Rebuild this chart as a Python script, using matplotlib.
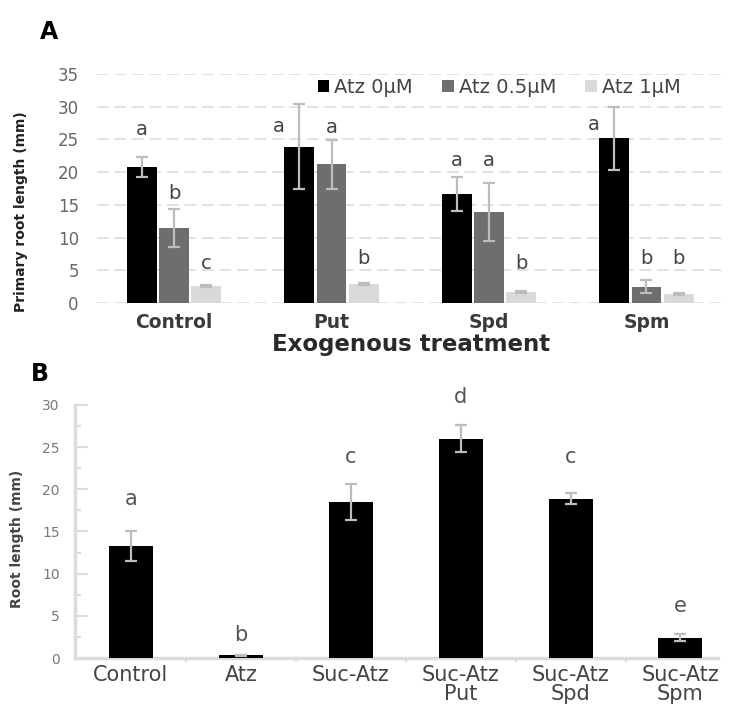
import numpy as np
import matplotlib.pyplot as plt
from matplotlib.ticker import MultipleLocator, FixedLocator

# wide sans face: the source figure's text is stretched sideways
plt.rcParams['font.family'] = ['DejaVu Sans']

# panel A data
groups_a = ['Control', 'Put', 'Spd', 'Spm']
series_names = ['Atz 0μM', 'Atz 0.5μM', 'Atz 1μM']
atz0 = [20.8, 23.9, 16.7, 25.2]
atz0_err = [1.5, 6.5, 2.6, 4.8]
atz05 = [11.5, 21.2, 13.9, 2.5]
atz05_err = [2.9, 3.7, 4.4, 1.0]
atz1 = [2.6, 2.9, 1.7, 1.4]
atz1_err = [0.2, 0.2, 0.2, 0.1]
letters_a = [['a', 'b', 'c'], ['a', 'a', 'b'], ['a', 'a', 'b'], ['a', 'b', 'b']]
letter_y_a = [[26.5, 16.8, 6.1], [27.0, 26.8, 6.8], [21.8, 21.8, 6.1], [27.3, 6.8, 6.8]]
letter_dx_a = [[0, 0, 0], [-0.13, 0, 0], [0, 0, 0], [-0.13, 0, 0]]

# panel B data
groups_b = ['Control', 'Atz', 'Suc-Atz', 'Suc-Atz\nPut', 'Suc-Atz\nSpd', 'Suc-Atz\nSpm']
root_len = [13.3, 0.3, 18.5, 26.0, 18.9, 2.4]
root_err = [1.8, 0.1, 2.1, 1.6, 0.7, 0.4]
letters_b = ['a', 'b', 'c', 'd', 'c', 'e']
letter_y_b = [18.8, 2.7, 23.8, 31.0, 23.8, 6.2]

fig = plt.figure(figsize=(7.34, 7.07), dpi=100)

# ---- panel A ----
ax1 = fig.add_axes([0.132, 0.5714, 0.856, 0.3239])
x = np.arange(len(groups_a))
w = 0.205
colors = ['#000000', '#6e6e6e', '#d9d9d9']
vals = [atz0, atz05, atz1]
errs = [atz0_err, atz05_err, atz1_err]
for i in range(3):
    ax1.bar(x + (i - 1) * w, vals[i], w * 0.92, color=colors[i], yerr=errs[i],
            error_kw=dict(ecolor='#bdbdbd', elinewidth=1.6, capsize=4, capthick=1.6),
            label=series_names[i], zorder=3)
    for j in range(len(groups_a)):
        ax1.text(x[j] + (i - 1) * w + letter_dx_a[j][i], letter_y_a[j][i], letters_a[j][i],
                 ha='center', va='center', fontsize=14, color='#444444')
ax1.set_xlim(-0.49, 3.5)
ax1.set_ylim(0, 35)
ax1.yaxis.set_major_locator(MultipleLocator(5))
ax1.grid(axis='y', color='#e2e2e2', lw=1.4, ls=(0, (6, 3)), zorder=0)
for s in ax1.spines.values():
    s.set_visible(False)
ax1.tick_params(axis='both', length=0)
ax1.tick_params(axis='y', pad=13, labelsize=12, labelcolor='#666666')
ax1.tick_params(axis='x', pad=7)
ax1.set_xticks(x)
ax1.set_xticklabels(groups_a, fontsize=13.5, fontweight='bold', color='#3a3a3a')
ax1.set_xlabel('Exogenous treatment', fontsize=16.5, fontweight='bold', color='#2a2a2a', labelpad=1)
ax1.set_ylabel('Primary root length (mm)', fontsize=10, fontweight='bold', color='#222222')
ax1.yaxis.set_label_coords(-0.11, 0.40)
ax1.legend(loc='center', bbox_to_anchor=(0.64, 0.943), ncol=3, frameon=False,
           fontsize=14, handlelength=0.6, handleheight=0.6, handletextpad=0.25,
           columnspacing=1.5, labelcolor='#444444')
fig.text(0.067, 0.955, 'A', fontsize=17, fontweight='bold', ha='center', va='center')

# ---- panel B ----
ax2 = fig.add_axes([0.102, 0.0693, 0.876, 0.3579])
xb = np.arange(len(groups_b))
ax2.bar(xb, root_len, 0.4, color='#000000', yerr=root_err,
        error_kw=dict(ecolor='#bdbdbd', elinewidth=1.6, capsize=4, capthick=1.6), zorder=3)
for j in range(len(groups_b)):
    ax2.text(xb[j], letter_y_b[j], letters_b[j], ha='center', va='center',
             fontsize=15, color='#555555')
ax2.set_xlim(-0.51, 5.34)
ax2.set_ylim(0, 30)
ax2.yaxis.set_major_locator(MultipleLocator(5))
ax2.yaxis.set_minor_locator(MultipleLocator(2.5))
for s in ['top', 'right']:
    ax2.spines[s].set_visible(False)
for s in ['left', 'bottom']:
    ax2.spines[s].set_color('#dcdcdc')
    ax2.spines[s].set_linewidth(2.5)
ax2.set_xticks(xb)
ax2.set_xticklabels(groups_b, fontsize=15, color='#444444', linespacing=0.95)
ax2.xaxis.set_minor_locator(FixedLocator(xb[:-1] + 0.5))
ax2.tick_params(axis='x', which='major', length=0, pad=5)
ax2.tick_params(axis='x', which='minor', length=3, width=1.5, color='#dcdcdc', direction='out')
ax2.tick_params(axis='y', which='major', direction='in', length=9, width=1.5, color='#dcdcdc',
                labelsize=10, labelcolor='#777777', pad=11)
ax2.tick_params(axis='y', which='minor', direction='in', length=4, width=1.5, color='#dcdcdc')
ax2.set_ylabel('Root length (mm)', fontsize=10, fontweight='bold', color='#444444')
ax2.yaxis.set_label_coords(-0.079, 0.47)
fig.text(0.055, 0.471, 'B', fontsize=17, fontweight='bold', ha='center', va='center')

fig.savefig('out.png', dpi=100)
